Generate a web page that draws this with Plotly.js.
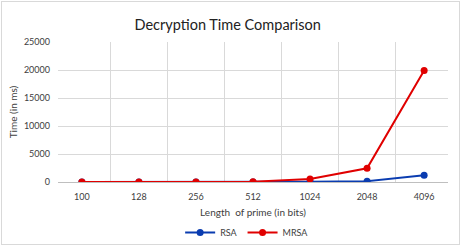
<!DOCTYPE html>
<html>
<head>
<meta charset="utf-8">
<script src="https://cdn.plot.ly/plotly-3.0.1.min.js"></script>
<style>
html,body{margin:0;padding:0;background:#fff;}
#wrap{position:relative;width:460px;height:247px;}
#chart{position:absolute;left:0;top:0;width:460px;height:247px;}
#frame{position:absolute;left:1px;top:1px;width:457px;height:242px;border:1px solid #d9d9d9;pointer-events:none;}
</style>
</head>
<body>
<div id="wrap"><div id="chart"></div><div id="frame"></div></div>
<script>
const categories = ['100', '128', '256', '512', '1024', '2048', '4096'];
const rsaValues = [0, 0, 0, 10, 30, 150, 1200];
const mrsaValues = [0, 0, 0, 60, 550, 2450, 19900];
const yTicks = [0, 5000, 10000, 15000, 20000, 25000];

const font = 'Lato, "Open Sans", "DejaVu Sans", sans-serif';

const traces = [
  {x: categories, y: rsaValues, name: 'RSA', type: 'scatter', mode: 'lines+markers',
   line: {color: '#0a3cb0', width: 2}, marker: {color: '#0a3cb0', size: 7}},
  {x: categories, y: mrsaValues, name: 'MRSA', type: 'scatter', mode: 'lines+markers',
   line: {color: '#e00000', width: 2}, marker: {color: '#e00000', size: 7}}
];

const layout = {
  width: 460, height: 247,
  margin: {l: 58, r: 12, t: 42, b: 65, autoexpand: false},
  paper_bgcolor: '#fff', plot_bgcolor: '#fff',
  font: {family: font, color: '#404040', size: 9},
  title: {text: 'Decryption Time Comparison', x: 0.495, xanchor: 'center', y: 0.9, yanchor: 'middle',
          font: {family: font, size: 14.5, color: '#222'}},
  showlegend: true,
  legend: {orientation: 'h', x: 0.485, xanchor: 'center', y: -0.36, yanchor: 'middle',
           font: {size: 9, color: '#404040'}, itemwidth: 30, tracegroupgap: 0},
  xaxis: {type: 'category', tickson: 'boundaries', showgrid: true, gridcolor: '#d9d9d9', gridwidth: 1,
          showline: true, linecolor: '#bfbfbf', linewidth: 1, ticks: '', ticklabelstandoff: 6,
          automargin: false,
          title: {text: 'Length  of prime (in bits)', standoff: 8, font: {size: 10, color: '#404040'}},
          fixedrange: true},
  yaxis: {range: [0, 25000], tickvals: yTicks, ticktext: yTicks.map(String), showgrid: true,
          gridcolor: '#d9d9d9', gridwidth: 1, zeroline: false, showline: false, ticks: '',
          ticklabelstandoff: 7, automargin: false,
          title: {text: 'Time (in ms)', standoff: 4, font: {size: 10, color: '#404040'}},
          fixedrange: true}
};

Plotly.newPlot('chart', traces, layout, {displayModeBar: false, staticPlot: true});
</script>
</body>
</html>
